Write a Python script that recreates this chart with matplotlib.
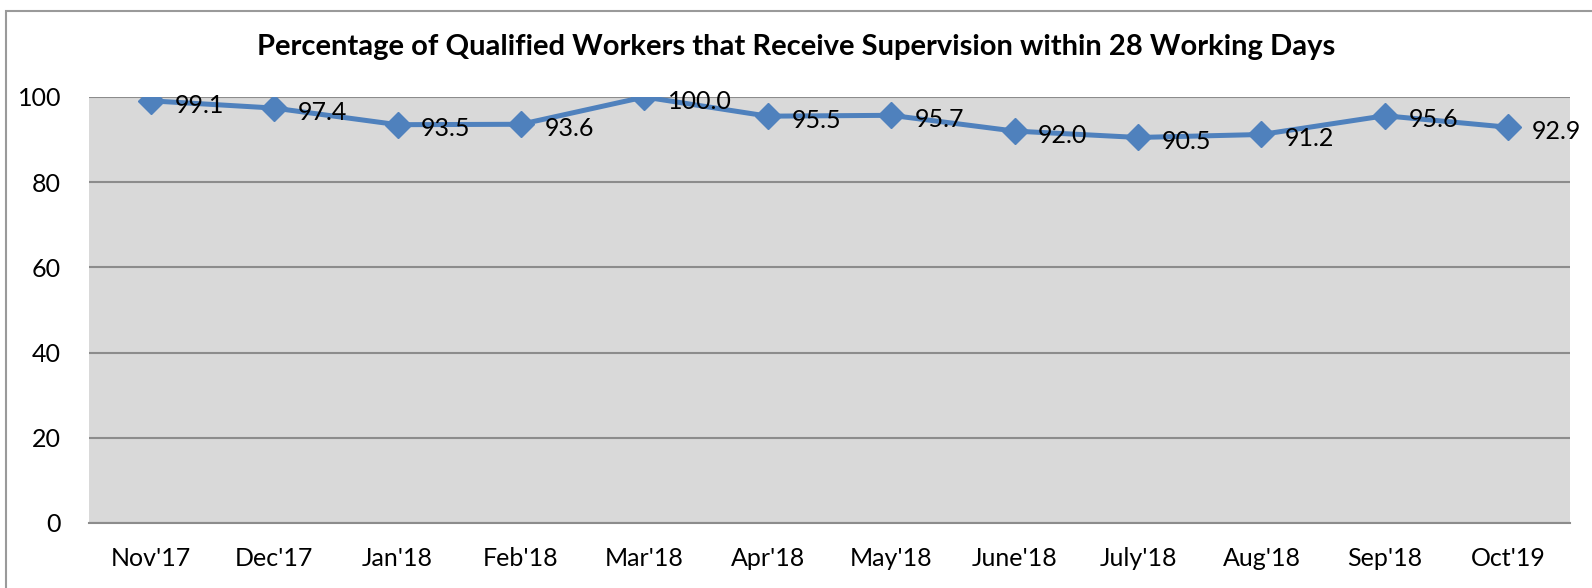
import matplotlib.pyplot as plt
from matplotlib.patches import Rectangle

months = ["Nov'17", "Dec'17", "Jan'18", "Feb'18", "Mar'18", "Apr'18",
          "May'18", "June'18", "July'18", "Aug'18", "Sep'18", "Oct'19"]
pct = [99.1, 97.4, 93.5, 93.6, 100.0, 95.5, 95.7, 92.0, 90.5, 91.2, 95.6, 92.9]
yticks = [0, 20, 40, 60, 80, 100]

plt.rcParams['font.family'] = ['Lato', 'DejaVu Sans']

fig = plt.figure(figsize=(15.92, 5.88), dpi=100)
ax = fig.add_axes([89 / 1592, 65 / 588, 1481 / 1592, 426 / 588])

# outer chart border
fig.patches.append(Rectangle((6 / 1592, -0.01), 1.0, 0.9915, transform=fig.transFigure,
                             fill=False, edgecolor="#9a9a9a", linewidth=1.5))

ax.set_facecolor("#d9d9d9")
x = list(range(len(months)))
ax.plot(x, pct, color="#4f81bd", linewidth=3.6, marker="D", markersize=13, zorder=3)
for xi, v in zip(x, pct):
    ax.annotate(f"{v:.1f}", (xi, v), xytext=(17, -3), textcoords="offset points",
                ha="left", va="center", fontsize=18, zorder=4)

ax.set_xlim(-0.5, len(months) - 0.5)
ax.set_ylim(0, 100)
ax.set_yticks(yticks)
ax.set_xticks(x)
ax.set_xticklabels(months)
ax.tick_params(length=0, labelsize=18)
ax.tick_params(axis="x", pad=17)
ax.tick_params(axis="y", pad=20)
ax.grid(axis="y", color="#8c8c8c", linewidth=1.5)
ax.set_axisbelow(True)
for s in ["left", "right", "top"]:
    ax.spines[s].set_visible(False)
ax.spines["bottom"].set_color("#8c8c8c")
ax.spines["bottom"].set_linewidth(1.5)

fig.text(0.5, 1 - 47 / 588,
         "Percentage of Qualified Workers that Receive Supervision within 28 Working Days",
         ha="center", va="center", fontsize=21, fontweight="bold")

fig.savefig("out.png", dpi=100)
